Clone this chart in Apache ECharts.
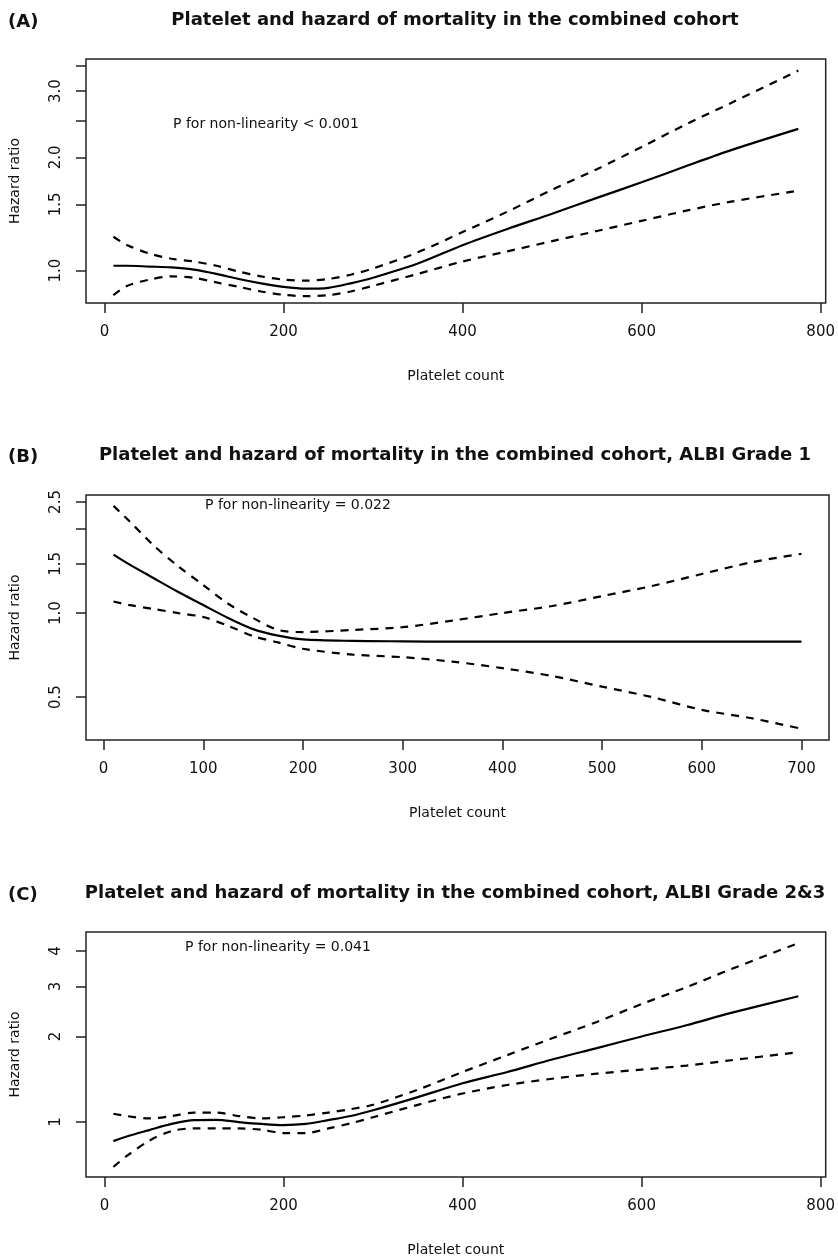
<!DOCTYPE html>
<html>
<head>
<meta charset="utf-8">
<script src="https://cdn.jsdelivr.net/npm/echarts@6/dist/echarts.min.js"></script>
<style>
html, body { margin: 0; padding: 0; background: #fff; }
#main { width: 838px; height: 1260px; }
</style>
</head>
<body>
<div id="main"></div>
<script>
const xA = [10, 25, 50, 75, 100, 125, 150, 175, 200, 225, 250, 275, 300, 350, 400, 450, 500, 550, 600, 650, 700, 775];
const hrA    = [1.03, 1.03, 1.025, 1.02, 1.006, 0.98, 0.95, 0.925, 0.905, 0.895, 0.9, 0.925, 0.957, 1.044, 1.168, 1.29, 1.416, 1.56, 1.716, 1.896, 2.09, 2.38];
const upperA = [1.23, 1.17, 1.11, 1.075, 1.057, 1.03, 0.994, 0.965, 0.946, 0.94, 0.95, 0.975, 1.013, 1.118, 1.266, 1.434, 1.64, 1.86, 2.13, 2.45, 2.79, 3.40];
const lowerA = [0.86, 0.91, 0.946, 0.965, 0.957, 0.93, 0.905, 0.88, 0.862, 0.855, 0.86, 0.88, 0.911, 0.98, 1.057, 1.125, 1.197, 1.274, 1.356, 1.443, 1.525, 1.63];

const xB = [10, 25, 50, 75, 100, 125, 150, 175, 200, 250, 300, 350, 400, 450, 500, 550, 600, 650, 700];
const hrB    = [1.62, 1.5, 1.335, 1.19, 1.068, 0.96, 0.876, 0.83, 0.805, 0.795, 0.792, 0.79, 0.79, 0.79, 0.79, 0.79, 0.79, 0.79, 0.79];
const upperB = [2.42, 2.15, 1.75, 1.47, 1.26, 1.08, 0.96, 0.87, 0.855, 0.87, 0.89, 0.94, 1.0, 1.06, 1.15, 1.25, 1.38, 1.52, 1.63];
const lowerB = [1.10, 1.07, 1.034, 1.0, 0.968, 0.9, 0.827, 0.785, 0.745, 0.71, 0.695, 0.67, 0.635, 0.595, 0.545, 0.5, 0.45, 0.42, 0.385];

const xC = [10, 25, 50, 75, 100, 125, 150, 175, 200, 225, 250, 275, 300, 350, 400, 450, 500, 550, 600, 650, 700, 775];
const hrC    = [0.857, 0.89, 0.937, 0.985, 1.016, 1.018, 1.0, 0.985, 0.976, 0.985, 1.016, 1.05, 1.1, 1.224, 1.37, 1.5, 1.66, 1.82, 2.0, 2.19, 2.42, 2.77];
const upperC = [1.07, 1.05, 1.03, 1.05, 1.08, 1.08, 1.05, 1.03, 1.04, 1.055, 1.08, 1.11, 1.15, 1.3, 1.5, 1.72, 1.97, 2.25, 2.6, 2.98, 3.45, 4.26];
const lowerC = [0.696, 0.76, 0.86, 0.93, 0.95, 0.95, 0.95, 0.94, 0.915, 0.915, 0.95, 0.99, 1.04, 1.15, 1.26, 1.35, 1.42, 1.48, 1.53, 1.58, 1.65, 1.76];

// axis ticks (hazard ratio scale is logarithmic)
const yTicksA = [1, 1.5, 2, 2.5, 3, 3.5];
const yLabelsA = [1, 1.5, 2, 3];
const yTicksB = [0.5, 1, 1.5, 2, 2.5];
const yLabelsB = [0.5, 1, 1.5, 2.5];
const yTicksC = [1, 2, 3, 4];
const yLabelsC = [1, 2, 3, 4];
const xTicksAC = [0, 200, 400, 600, 800];
const xTicksB = [0, 100, 200, 300, 400, 500, 600, 700];

const titles = [
    'Platelet and hazard of mortality in the combined cohort',
    'Platelet and hazard of mortality in the combined cohort, ALBI Grade 1',
    'Platelet and hazard of mortality in the combined cohort, ALBI Grade 2&3'
];
const panelTags = ['(A)', '(B)', '(C)'];
const pTexts = ['P for non-linearity < 0.001', 'P for non-linearity = 0.022', 'P for non-linearity = 0.041'];

const FONT = 'DejaVu Sans';
const INK = '#111';

// panel boxes (R plot region, 4% padding around the data)
const boxes = [
    { top: 59, height: 244, xMin: -20.6, xMax: 805.6, yMin: 0.82, yMax: 3.65 },
    { top: 495, height: 245, xMin: -17.6, xMax: 727.6, yMin: 0.351, yMax: 2.648 },
    { top: 932, height: 245, xMin: -20.6, xMax: 805.6, yMin: 0.641, yMax: 4.66 }
];

function pairs(xs, ys) {
    return xs.map(function(x, i) { return [x, Math.log(ys[i])]; });
}

function makeX(i, ticks) {
    const b = boxes[i];
    return {
        type: 'value', gridIndex: i, min: b.xMin, max: b.xMax,
        name: 'Platelet count', nameLocation: 'middle', nameGap: 66,
        nameTextStyle: { fontFamily: FONT, fontSize: 14, color: INK },
        axisLine: { show: false, onZero: false },
        axisTick: { show: true, inside: false, length: 10, customValues: ticks, lineStyle: { color: '#222', width: 1.5 } },
        axisLabel: { customValues: ticks, margin: 22, fontFamily: FONT, fontSize: 15, color: INK },
        splitLine: { show: false }
    };
}

function makeY(i, ticks, labels, decimals) {
    const b = boxes[i];
    return {
        type: 'value', gridIndex: i, min: Math.log(b.yMin), max: Math.log(b.yMax),
        name: 'Hazard ratio', nameLocation: 'middle', nameGap: 64, nameRotate: 90,
        nameTextStyle: { fontFamily: FONT, fontSize: 14, color: INK },
        axisLine: { show: false, onZero: false },
        axisTick: { show: true, inside: false, length: 10, customValues: ticks.map(Math.log), lineStyle: { color: '#222', width: 1.5 } },
        axisLabel: {
            customValues: labels.map(Math.log), rotate: 90, margin: 22,
            fontFamily: FONT, fontSize: 15, color: INK,
            formatter: function(v) { return Math.exp(v).toFixed(decimals); }
        },
        splitLine: { show: false }
    };
}

function curve(i, xs, ys, dashed) {
    return {
        type: 'line', xAxisIndex: i, yAxisIndex: i,
        data: pairs(xs, ys), smooth: 0.3, symbol: 'none', silent: true,
        lineStyle: { color: '#000', width: 2.2, type: dashed ? [8, 7] : 'solid' }
    };
}

const chart = echarts.init(document.getElementById('main'), null, { renderer: 'canvas' });

const graphics = [];
const titleY = [20, 455, 893];
const pPos = [[173, 124], [205, 505], [185, 947]];
for (let i = 0; i < 3; i++) {
    graphics.push({ type: 'text', x: 8, y: titleY[i] + 2, style: { text: panelTags[i], font: 'bold 18px "' + FONT + '"', fill: INK, align: 'left', verticalAlign: 'middle', textAlign: 'left', textVerticalAlign: 'middle' } });
    graphics.push({ type: 'text', x: 455, y: titleY[i], style: { text: titles[i], font: 'bold 18px "' + FONT + '"', fill: INK, align: 'center', verticalAlign: 'middle', textAlign: 'center', textVerticalAlign: 'middle' } });
    graphics.push({ type: 'text', x: pPos[i][0], y: pPos[i][1], style: { text: pTexts[i], font: '14px "' + FONT + '"', fill: INK, align: 'left', verticalAlign: 'middle', textAlign: 'left', textVerticalAlign: 'middle' } });
}

chart.setOption({
    animation: false,
    backgroundColor: '#fff',
    grid: boxes.map(function(b) {
        return { left: 86, right: 9, top: b.top, height: b.height, show: true, borderColor: '#222', borderWidth: 1.5, backgroundColor: 'transparent' };
    }),
    xAxis: [makeX(0, xTicksAC), makeX(1, xTicksB), makeX(2, xTicksAC)],
    yAxis: [makeY(0, yTicksA, yLabelsA, 1), makeY(1, yTicksB, yLabelsB, 1), makeY(2, yTicksC, yLabelsC, 0)],
    series: [
        curve(0, xA, hrA, false), curve(0, xA, upperA, true), curve(0, xA, lowerA, true),
        curve(1, xB, hrB, false), curve(1, xB, upperB, true), curve(1, xB, lowerB, true),
        curve(2, xC, hrC, false), curve(2, xC, upperC, true), curve(2, xC, lowerC, true)
    ],
    graphic: graphics
});
</script>
</body>
</html>
